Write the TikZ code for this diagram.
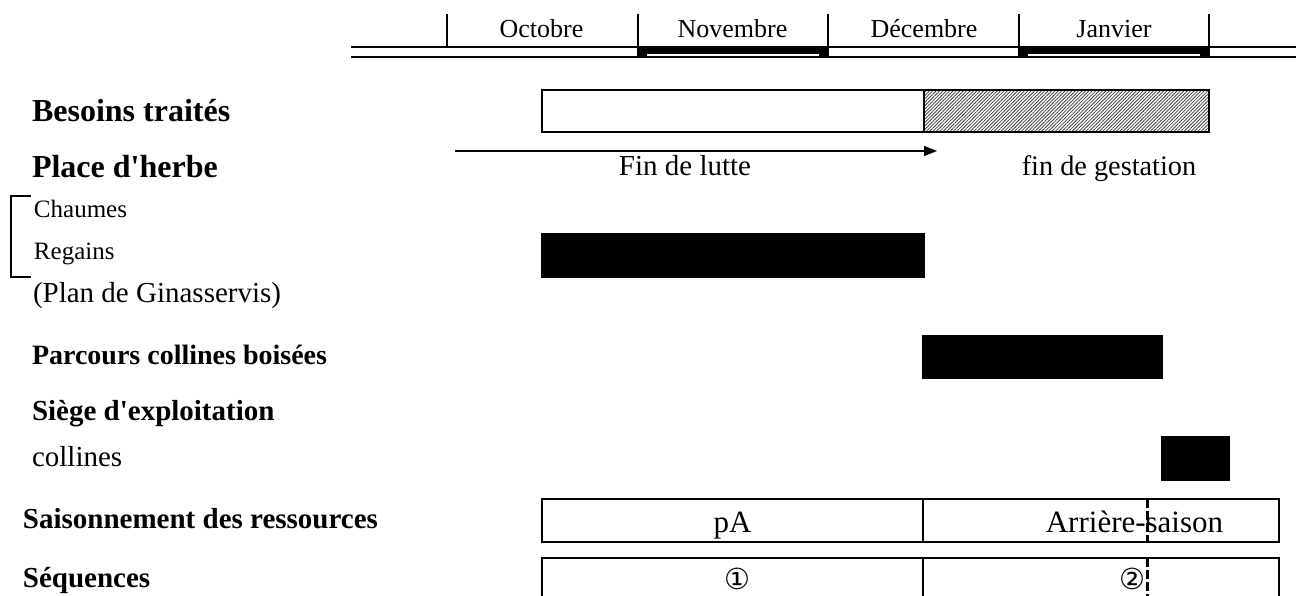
\documentclass[tikz,border=0pt]{standalone}
\usepackage{fontspec}
\setmainfont{Liberation Serif}[Ligatures=TeXOff]
\newfontfamily\circfont{DejaVu Sans}
\usetikzlibrary{patterns.meta,arrows.meta}
\begin{document}
\begin{tikzpicture}[x=1pt,y=-1pt,line width=2pt,
  lbl/.style={inner sep=0pt,anchor=base west},
  ctr/.style={inner sep=0pt,anchor=base},
  month/.style={ctr,font=\fontsize{26}{30}\selectfont},
  head/.style={lbl,font=\bfseries\fontsize{32}{36}\selectfont},
  headsm/.style={lbl,font=\bfseries\fontsize{29}{33}\selectfont},
  plain/.style={lbl,font=\fontsize{29}{33}\selectfont},
  small/.style={lbl,font=\fontsize{25}{29}\selectfont},
  circ/.style={inner sep=0pt,font=\circfont\fontsize{29}{33}\selectfont},
  tick/.style={line width=1.8pt},
  blackbar/.style={fill=black},
  dashline/.style={line width=3pt,dash pattern=on 9pt off 3pt}]
\useasboundingbox (0,0) rectangle (1296,596);
\clip (0,0) rectangle (1296,596);

% timeline header
\draw (351,46.7) -- (1296,46.7);
\draw (351,57.3) -- (1296,57.3);
\draw[tick] (447,14) -- (447,46.7);
\draw[tick] (638,14) -- (638,57.3);
\draw[tick] (828,14) -- (828,57.3);
\draw[tick] (1019,14) -- (1019,57.3);
\draw[tick] (1209,14) -- (1209,57.3);
\fill (638,46) rectangle (828,54.5);
\fill (638,46) rectangle (647,58.3);
\fill (819,46) rectangle (828,58.3);
\fill (1019,46) rectangle (1209,54.5);
\fill (1019,46) rectangle (1028,58.3);
\fill (1200,46) rectangle (1209,58.3);
\node[month] (oct) at (541.5,38) {Octobre};
\node[month] (nov) at (732.5,38) {Novembre};
\node[month] (dec) at (924,38) {Décembre};
\node[month] (jan) at (1114,38) {Janvier};

% left labels
\node[head] (besoins) at (31,121.5) {Besoins traités};
\node[head] (place) at (31,178) {Place d'herbe};
\node[small] (chaumes) at (33,218) {Chaumes};
\node[small] (regains) at (33,260) {Regains};
\draw (31,196) -- (11,196) -- (11,277) -- (31,277);
\node[plain] (plan) at (32,302) {(Plan de Ginasservis)};
\node[headsm,font=\bfseries\fontsize{28}{32}\selectfont] (parcours) at (31,364) {Parcours collines boisées};
\node[headsm] (siege) at (31,420) {Siège d'exploitation};
\node[plain] (collines) at (31,466) {collines};
\node[headsm] (saison) at (22,528) {Saisonnement des ressources};
\node[headsm] (seq) at (22,587) {Séquences};

% besoins traités
\draw (542,90) rectangle (924,132);
\path[fill=white,pattern={Lines[angle=45,distance=2.4pt,line width=0.8pt]},pattern color=black!75] (924,90) rectangle (1209,132);
\draw (924,90) rectangle (1209,132);

% arrow
\coordinate (arrS) at (455,151);
\coordinate (arrE) at (937,151);
\draw[line width=1.5pt,-{Triangle[length=13pt,width=10pt]}] (arrS) -- (arrE);
\node[ctr,font=\fontsize{29}{33}\selectfont] (lutte) at (685,176) {Fin de lutte};
\node[ctr,font=\fontsize{28.3}{33}\selectfont] (gest) at (1109,176) {fin de gestation};

% black bars
\fill[blackbar] (541,233) rectangle (925,278);
\fill[blackbar] (922,335) rectangle (1163,379);
\fill[blackbar] (1161,436) rectangle (1230,481);

% rows
\draw (542,499) rectangle (1279,542);
\draw (923,499) -- (923,542);
\draw (542,558) rectangle (1279,610);
\draw (923,558) -- (923,610);
\node[ctr,font=\fontsize{31}{35}\selectfont] (pa) at (732.5,532) {pA};
\node[ctr,font=\fontsize{31}{35}\selectfont] (arr) at (1134.5,532) {Arrière-saison};
\node[circ] (s1) at (737.5,579) {①};
\node[circ] (s2) at (1132,579) {②};
\draw[dashline] (1147,499) -- (1147,542);
\draw[dashline] (1147,558) -- (1147,600);
\end{tikzpicture}
\end{document}
